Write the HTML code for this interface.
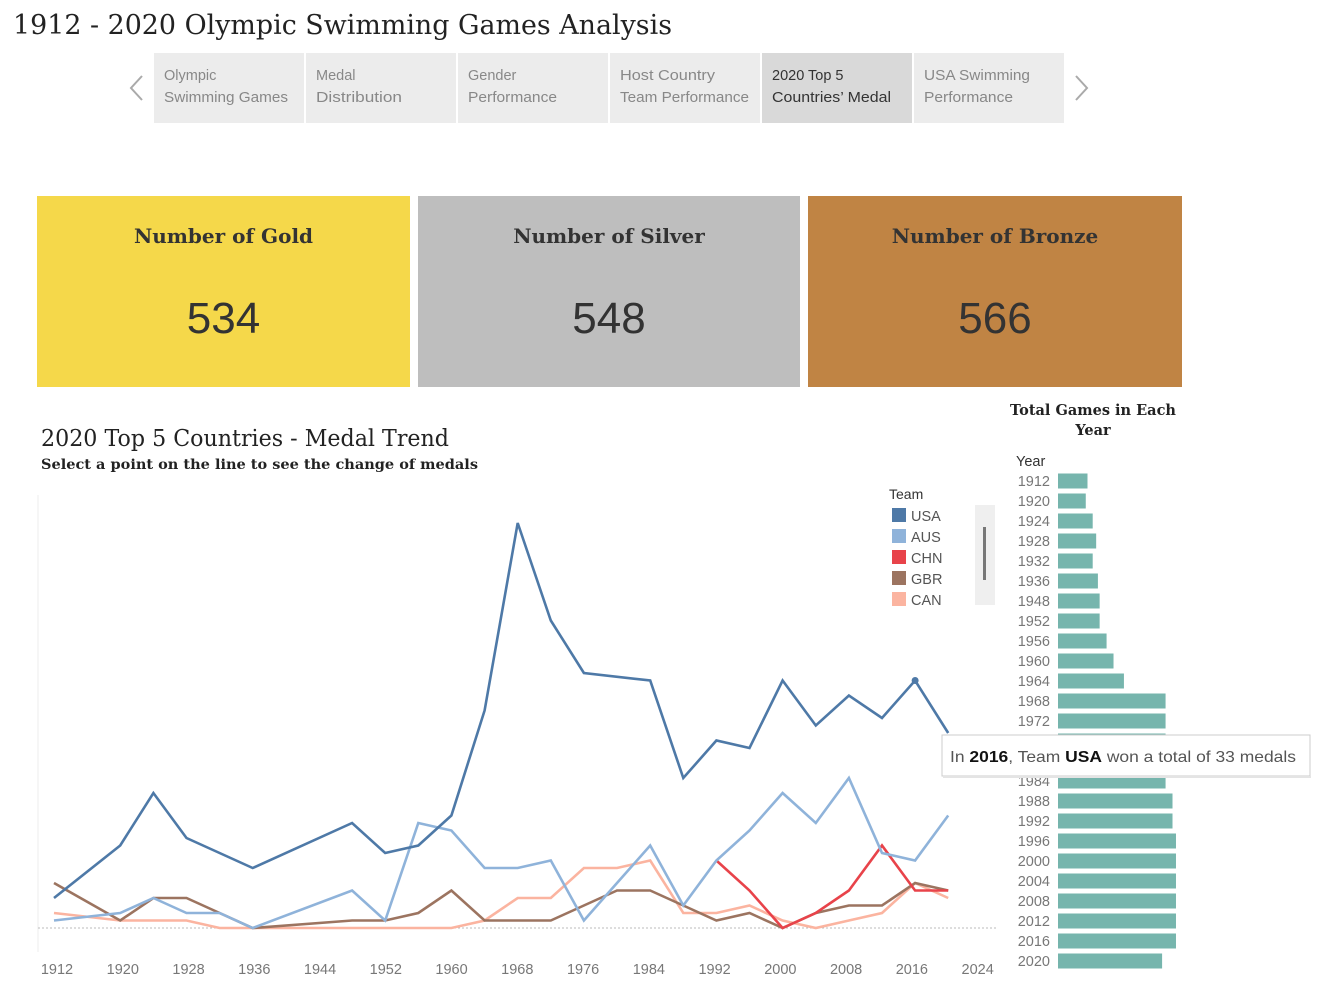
<!DOCTYPE html>
<html><head><meta charset="utf-8"><style>
body{margin:0;background:#fff;}
svg text{font-family:"Liberation Sans",sans-serif;}
.serif{font-family:"DejaVu Serif","Liberation Serif",serif !important;}
</style></head><body>
<svg id="root" width="1326" height="1000" viewBox="0 0 1326 1000" xmlns="http://www.w3.org/2000/svg">
<text class="serif" x="13" y="34" font-size="27" fill="#222" textLength="659" lengthAdjust="spacingAndGlyphs">1912 - 2020 Olympic Swimming Games Analysis</text>

<g>
<polyline points="142,76 131,88 142,100" fill="none" stroke="#aaa" stroke-width="2"/>
<polyline points="1076,76 1087,88 1076,100" fill="none" stroke="#aaa" stroke-width="2"/>
<g><rect x="154" y="53" width="150" height="70" fill="#ececec"/><text x="164" y="80" font-size="14.5" fill="#888">Olympic</text><text x="164" y="102" font-size="14.5" fill="#888" textLength="124" lengthAdjust="spacingAndGlyphs">Swimming Games</text></g>
<g><rect x="306" y="53" width="150" height="70" fill="#ececec"/><text x="316" y="80" font-size="14.5" fill="#888">Medal</text><text x="316" y="102" font-size="14.5" fill="#888" textLength="86" lengthAdjust="spacingAndGlyphs">Distribution</text></g>
<g><rect x="458" y="53" width="150" height="70" fill="#ececec"/><text x="468" y="80" font-size="14.5" fill="#888">Gender</text><text x="468" y="102" font-size="14.5" fill="#888" textLength="89" lengthAdjust="spacingAndGlyphs">Performance</text></g>
<g><rect x="610" y="53" width="150" height="70" fill="#ececec"/><text x="620" y="80" font-size="14.5" fill="#888" textLength="95" lengthAdjust="spacingAndGlyphs">Host Country</text><text x="620" y="102" font-size="14.5" fill="#888" textLength="129" lengthAdjust="spacingAndGlyphs">Team Performance</text></g>
<g><rect x="762" y="53" width="150" height="70" fill="#d9d9d9"/><text x="772" y="80" font-size="14.5" fill="#333">2020 Top 5</text><text x="772" y="102" font-size="14.5" fill="#333" textLength="119" lengthAdjust="spacingAndGlyphs">Countries’ Medal</text></g>
<g><rect x="914" y="53" width="150" height="70" fill="#ececec"/><text x="924" y="80" font-size="14.5" fill="#888" textLength="106" lengthAdjust="spacingAndGlyphs">USA Swimming</text><text x="924" y="102" font-size="14.5" fill="#888" textLength="89" lengthAdjust="spacingAndGlyphs">Performance</text></g>
</g>

<g><rect x="37" y="196" width="373" height="191" fill="#f5d84a"/><text class="serif" x="223.5" y="243" font-size="20" font-weight="bold" fill="#333" text-anchor="middle">Number of Gold</text><text x="223.5" y="333" font-size="44" fill="#333" text-anchor="middle">534</text></g>
<g><rect x="418" y="196" width="382" height="191" fill="#bebebe"/><text class="serif" x="609" y="243" font-size="20" font-weight="bold" fill="#333" text-anchor="middle">Number of Silver</text><text x="609" y="333" font-size="44" fill="#333" text-anchor="middle">548</text></g>
<g><rect x="808" y="196" width="374" height="191" fill="#c08444"/><text class="serif" x="995" y="243" font-size="20" font-weight="bold" fill="#333" text-anchor="middle">Number of Bronze</text><text x="995" y="333" font-size="44" fill="#333" text-anchor="middle">566</text></g>

<text class="serif" x="41" y="446" font-size="23" fill="#222" textLength="408" lengthAdjust="spacingAndGlyphs">2020 Top 5 Countries - Medal Trend</text>
<text class="serif" x="41" y="469" font-size="14" font-weight="bold" fill="#222" textLength="437" lengthAdjust="spacingAndGlyphs">Select a point on the line to see the change of medals</text>

<g id="line-chart"></g>

<g>
<text x="889" y="499" font-size="14" fill="#333">Team</text>
<g id="legend-items"></g>
<rect x="975" y="505" width="20" height="100" fill="#efefef"/>
<line x1="984.5" y1="527" x2="984.5" y2="580" stroke="#777" stroke-width="3"/>
</g>

<g id="bar-chart">
<text class="serif" x="1093" y="415" font-size="14.5" font-weight="bold" fill="#222" text-anchor="middle">Total Games in Each</text>
<text class="serif" x="1093" y="435" font-size="14.5" font-weight="bold" fill="#222" text-anchor="middle">Year</text>
<text x="1016" y="466" font-size="14.5" fill="#333">Year</text>
</g>

<g>
<rect x="942" y="735" width="368" height="41" fill="#fff" stroke="#ccc"/>
<rect x="943" y="776" width="368" height="2" fill="#e4e4e4"/>
<text x="950" y="762" font-size="16" fill="#555" textLength="346" lengthAdjust="spacingAndGlyphs">In <tspan fill="#111" font-weight="bold">2016</tspan>, Team <tspan fill="#111" font-weight="bold">USA</tspan> won a total of 33 medals</text>
</g>
</svg>
<script>
const years=[1912,1920,1924,1928,1932,1936,1948,1952,1956,1960,1964,1968,1972,1976,1980,1984,1988,1992,1996,2000,2004,2008,2012,2016,2020];
const teams=["USA","AUS","CHN","GBR","CAN"];
const colors=["#4e79a7","#8fb3da","#e8434a","#9c7460","#fbb4a0"];
const usa=[4,11,18,12,10,8,14,10,11,15,29,54,41,34,null,33,20,25,24,33,27,31,28,33,26];
const aus=[1,2,4,2,2,0,5,1,14,13,8,8,9,1,6,11,3,9,13,18,14,20,10,9,15];
const chn=[null,null,null,null,null,null,null,null,null,null,null,null,null,null,null,null,null,9,5,0,2,5,11,5,5];
const gbr=[6,1,4,4,2,0,1,1,2,5,1,1,1,3,5,5,3,1,2,0,2,3,3,6,5];
const can=[2,1,1,1,0,0,0,0,0,0,1,4,4,8,8,9,2,2,3,1,0,1,2,6,4];
const xTicks=[1912,1920,1928,1936,1944,1952,1960,1968,1976,1984,1992,2000,2008,2016,2024];
const games=[8.5,8,10,11,10,11.5,12,12,14,16,19,31,31,31,31,31,33,33,34,34,34,34,34,34,30];
const series=[usa,aus,chn,gbr,can];
const NS="http://www.w3.org/2000/svg";
function mk(t,a,p){const e=document.createElementNS(NS,t);for(const k in a)e.setAttribute(k,a[k]);p.appendChild(e);return e;}
const xS=y=>54+(y-1912)*8.28;
const xL=y=>57+(y-1912)*8.22;
const yS=v=>928-v*7.5;
const lc=document.getElementById('line-chart');
const ax=mk('line',{x1:38,y1:495,x2:38,y2:952,stroke:'#eee'},lc);


const base=mk('line',{x1:38,y1:928,x2:998,y2:928,stroke:'#bbb','stroke-dasharray':'2,2'},lc);


xTicks.forEach(t=>{const e=mk('text',{x:xL(t),y:974,'font-size':14.5,fill:'#777','text-anchor':'middle'},lc);e.textContent=t;

});
const order=[4,3,2,1,0];
order.forEach(si=>{const vals=series[si];let d='';let pen=false;
vals.forEach((v,i)=>{if(v===null){return;}d+=(pen?'L':'M')+xS(years[i]).toFixed(1)+','+yS(v).toFixed(1);pen=true;});
const p=mk('path',{d:d,fill:'none',stroke:colors[si],'stroke-width':2.6,'stroke-linejoin':'miter'},lc);

});
const i16=years.indexOf(2016);
const dot=mk('circle',{cx:xS(2016),cy:yS(usa[i16]),r:3.5,fill:colors[0]},lc);


const lg=document.getElementById('legend-items');
teams.forEach((t,i)=>{const g=mk('g',{},lg);


mk('rect',{x:892,y:508+i*21,width:14,height:14,fill:colors[i]},g);
const tx=mk('text',{x:911,y:521+i*21,'font-size':14.5,fill:'#555'},g);tx.textContent=t;});
const bc=document.getElementById('bar-chart');
years.forEach((y,i)=>{const cy=481+i*20;
const r=mk('rect',{x:1058,y:cy-7.5,width:games[i]*3.47,height:15,fill:'#76b5ad'},bc);


const t=mk('text',{x:1050,y:cy+5,'font-size':14.5,fill:'#777','text-anchor':'end'},bc);t.textContent=y;

});
</script>
</body></html>
